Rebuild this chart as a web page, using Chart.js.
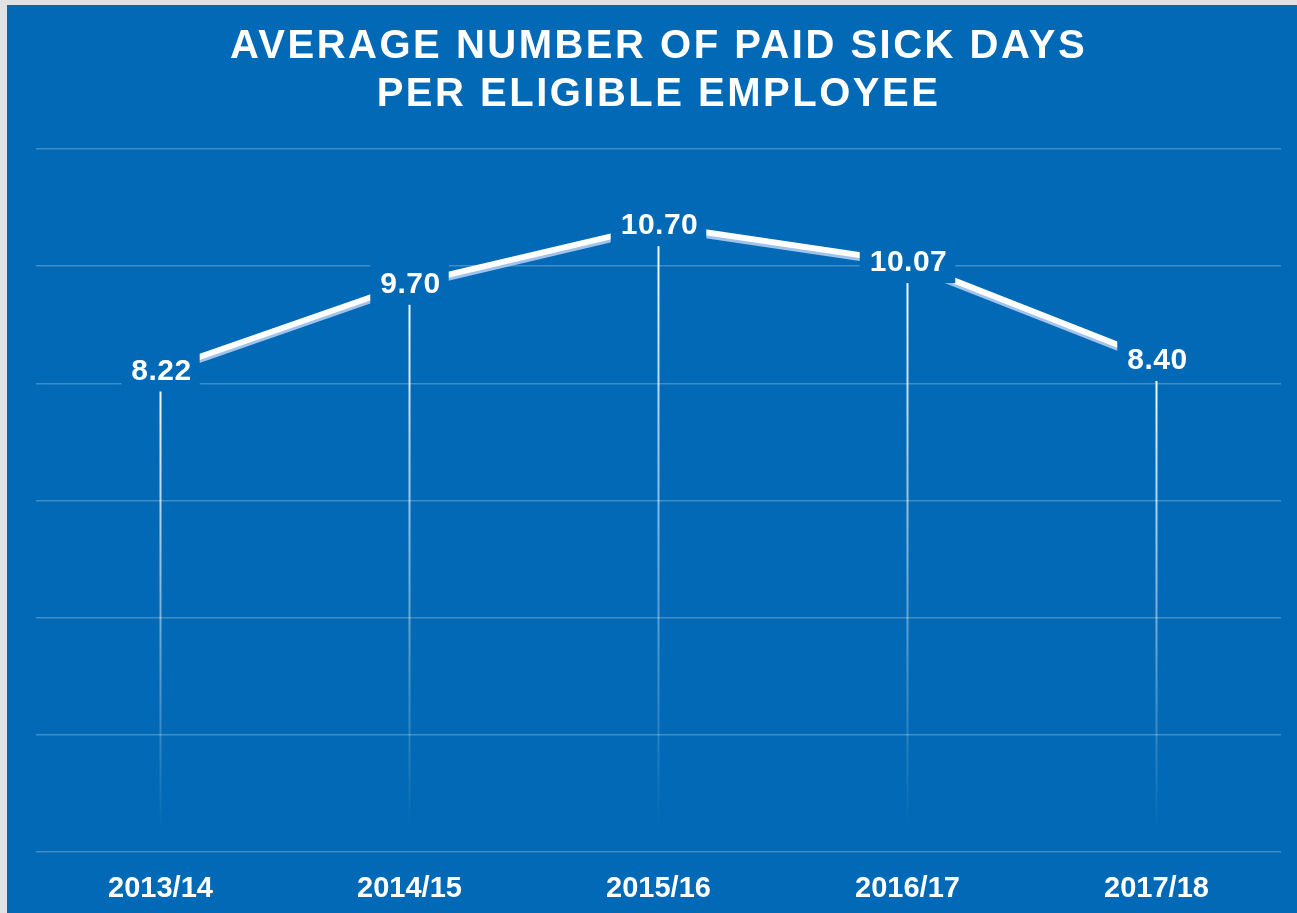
<!DOCTYPE html>
<html>
<head>
<meta charset="utf-8">
<script src="https://cdn.jsdelivr.net/npm/chart.js@4/dist/chart.umd.min.js"></script>
<style>
    body { margin: 0; background: #e2e2e2; }
    #panel {
        position: absolute; left: 7px; top: 5px;
        width: 1290px; height: 908px;
        background: #0169b5;
    }
</style>
</head>
<body>
<div id="panel"><canvas id="myChart"></canvas></div>
<script>
var years = ['2013/14', '2014/15', '2015/16', '2016/17', '2017/18'];
var sickDays = [8.22, 9.70, 10.70, 10.07, 8.40];
var titleLines = ['AVERAGE NUMBER OF PAID SICK DAYS', 'PER ELIGIBLE EMPLOYEE'];

var FONT = '"Liberation Sans", Arial, sans-serif';
var BLUE = '#0169b5';

// title gets letter spacing, everything else gets none
var spacingPlugin = {
    id: 'spacing',
    beforeDraw: function(chart) { chart.ctx.letterSpacing = '2.5px'; },
    beforeDatasetsDraw: function(chart) { chart.ctx.letterSpacing = '0px'; }
};

// fading drop lines from each point to zero
var dropLines = {
    id: 'dropLines',
    beforeDatasetsDraw: function(chart) {
        var ctx = chart.ctx;
        var meta = chart.getDatasetMeta(0);
        var y0 = chart.scales.y.getPixelForValue(0);
        ctx.save();
        for (var i = 0; i < meta.data.length; i++) {
            var pt = meta.data[i];
            var grad = ctx.createLinearGradient(0, pt.y, 0, y0 - 20);
            grad.addColorStop(0, 'rgba(255,255,255,1)');
            grad.addColorStop(1, 'rgba(255,255,255,0)');
            ctx.strokeStyle = grad;
            ctx.lineWidth = 2;
            ctx.beginPath();
            ctx.moveTo(pt.x, pt.y);
            ctx.lineTo(pt.x, y0 - 20);
            ctx.stroke();
        }
        ctx.restore();
    },
    beforeDatasetDraw: function(chart) {
        var ctx = chart.ctx;
        ctx.save();
        ctx.shadowColor = '#9fc3ec';
        ctx.shadowOffsetY = 3;
        ctx.shadowBlur = 0;
    },
    afterDatasetDraw: function(chart) {
        chart.ctx.restore();
    }
};

// value labels on a blue box that cuts the line and grid
var valueLabels = {
    id: 'valueLabels',
    afterDatasetsDraw: function(chart) {
        var ctx = chart.ctx;
        var meta = chart.getDatasetMeta(0);
        ctx.save();
        ctx.font = 'bold 30px ' + FONT;
        ctx.letterSpacing = '0.5px';
        ctx.textAlign = 'center';
        ctx.textBaseline = 'middle';
        for (var i = 0; i < meta.data.length; i++) {
            var pt = meta.data[i];
            var txt = sickDays[i].toFixed(2);
            var w = ctx.measureText(txt).width + 18;
            ctx.fillStyle = BLUE;
            ctx.fillRect(pt.x - w / 2, pt.y - 21, w, 42);
            ctx.fillStyle = '#ffffff';
            ctx.fillText(txt, pt.x + 1, pt.y + 1);
        }
        ctx.restore();
    }
};

var ctx = document.getElementById('myChart');
var chart = new Chart(ctx, {
    type: 'line',
    data: {
        labels: years,
        datasets: [{
            data: sickDays,
            borderColor: '#ffffff',
            borderWidth: 6,
            pointRadius: 0,
            tension: 0,
            fill: false
        }]
    },
    options: {
        responsive: true,
        maintainAspectRatio: false,
        animation: false,
        layout: { padding: { left: 29, right: 16, top: 0, bottom: -4 } },
        plugins: {
            legend: { display: false },
            tooltip: { enabled: false },
            title: {
                display: true,
                text: titleLines,
                color: '#ffffff',
                font: { family: FONT, size: 40, weight: 'bold', lineHeight: 1.2 },
                padding: { top: 18, bottom: 30 }
            }
        },
        scales: {
            x: {
                offset: true,
                grid: { display: false },
                border: { display: false },
                ticks: {
                    z: 1,
                    color: '#ffffff',
                    padding: 11,
                    font: { family: FONT, size: 29, weight: 'bold', lineHeight: 1.2 }
                }
            },
            y: {
                min: 0,
                max: 12,
                border: { display: false },
                grid: { color: 'rgba(255,255,255,0.25)', lineWidth: 1.5, drawTicks: false },
                ticks: { display: false, stepSize: 2 }
            }
        }
    },
    plugins: [spacingPlugin, dropLines, valueLabels]
});
</script>
</body>
</html>
